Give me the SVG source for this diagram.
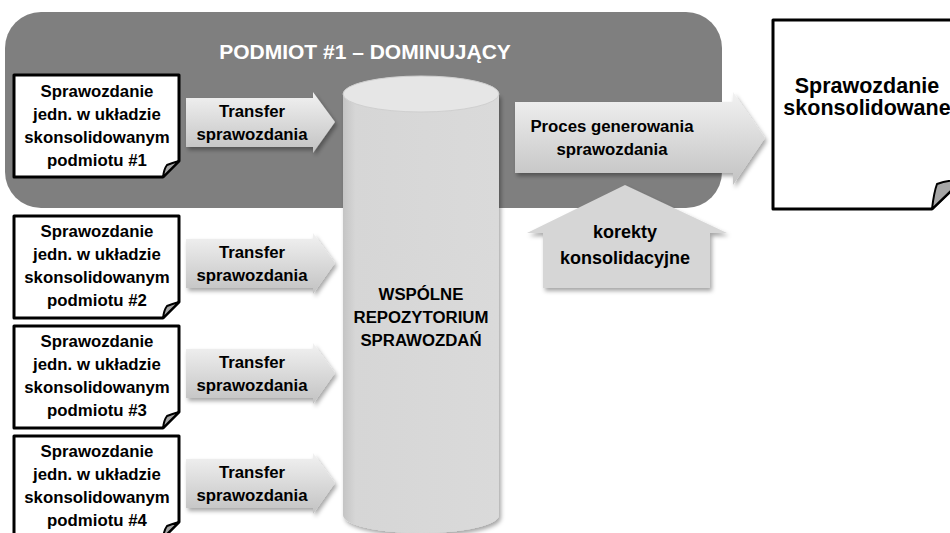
<svg xmlns="http://www.w3.org/2000/svg" width="950" height="533" viewBox="0 0 950 533">
<defs>
<linearGradient id="arrowGrad" x1="0" y1="0" x2="0" y2="1">
<stop offset="0" stop-color="#f2f2f2"/>
<stop offset="1" stop-color="#c2c2c2"/>
</linearGradient>
<linearGradient id="cylGrad" x1="0" y1="0" x2="1" y2="0">
<stop offset="0" stop-color="#c4c4c4"/>
<stop offset="0.08" stop-color="#d6d6d6"/>
<stop offset="1" stop-color="#dadada"/>
</linearGradient>
<filter id="shadow" x="-10%" y="-10%" width="130%" height="140%">
<feDropShadow dx="2" dy="3" stdDeviation="2" flood-color="#000" flood-opacity="0.35"/>
</filter>
<style>
.doc{fill:#fff;stroke:#000;stroke-width:3;stroke-linejoin:round}
.fold{fill:#a6a6a6;stroke:#000;stroke-width:2;stroke-linejoin:round}
.arr{fill:url(#arrowGrad);filter:url(#shadow)}
.t{font-family:"Liberation Sans",Arial,sans-serif;font-weight:bold;font-size:16.8px;fill:#000;text-anchor:middle}
.tl{font-family:"Liberation Sans",Arial,sans-serif;font-weight:bold;font-size:18px;fill:#000;text-anchor:middle}
.tx{font-family:"Liberation Sans",Arial,sans-serif;font-weight:bold;font-size:21.5px;fill:#000;text-anchor:middle}
.title{font-family:"Liberation Sans",Arial,sans-serif;font-weight:bold;font-size:21px;fill:#fff;text-anchor:middle}
</style>
</defs>
<rect width="950" height="533" fill="#fff"/>

<g id="podmiot1">
<rect x="5" y="12" width="717" height="196" rx="36" ry="36" fill="#7f7f7f"/>
<text class="title" x="365" y="59">PODMIOT #1 – DOMINUJĄCY</text>
</g>

<g id="repozytorium">
<path d="M343,94 V515 A78,18 0 0 0 499,515 V94 Z" fill="url(#cylGrad)" filter="url(#shadow)"/>
<ellipse cx="421" cy="94" rx="78" ry="18" fill="#e6e6e6" stroke="#cfcfcf" stroke-width="1"/>
<text class="t" x="421" y="300">WSPÓLNE</text>
<text class="t" x="421" y="323">REPOZYTORIUM</text>
<text class="t" x="421" y="346">SPRAWOZDAŃ</text>
</g>

<g id="doc1">
<path class="doc" d="M14,75 H179 V161 L163,177 H14 Z"/>
<path class="fold" d="M163,177 Q164,169 167,165 Q172,163 179,161 Z"/>
<text class="t" x="97" y="97">Sprawozdanie</text>
<text class="t" x="97" y="120">jedn. w układzie</text>
<text class="t" x="97" y="143">skonsolidowanym</text>
<text class="t" x="97" y="166">podmiotu #1</text>
</g>
<g id="doc2">
<path class="doc" d="M14,216 H179 V302 L163,318 H14 Z"/>
<path class="fold" d="M163,318 Q164,310 167,306 Q172,304 179,302 Z"/>
<text class="t" x="97" y="237">Sprawozdanie</text>
<text class="t" x="97" y="260">jedn. w układzie</text>
<text class="t" x="97" y="283">skonsolidowanym</text>
<text class="t" x="97" y="306">podmiotu #2</text>
</g>
<g id="doc3">
<path class="doc" d="M14,326 H179 V412 L163,428 H14 Z"/>
<path class="fold" d="M163,428 Q164,420 167,416 Q172,414 179,412 Z"/>
<text class="t" x="97" y="347">Sprawozdanie</text>
<text class="t" x="97" y="370">jedn. w układzie</text>
<text class="t" x="97" y="393">skonsolidowanym</text>
<text class="t" x="97" y="416">podmiotu #3</text>
</g>
<g id="doc4">
<path class="doc" d="M14,436 H179 V522 L163,538 H14 Z"/>
<path class="fold" d="M163,538 Q164,530 167,526 Q172,524 179,522 Z"/>
<text class="t" x="97" y="457">Sprawozdanie</text>
<text class="t" x="97" y="480">jedn. w układzie</text>
<text class="t" x="97" y="503">skonsolidowanym</text>
<text class="t" x="97" y="526">podmiotu #4</text>
</g>

<g id="sprawozdanie-skonsolidowane">
<path class="doc" d="M773,20 H962 V180 L932,209 H773 Z"/>
<path class="fold" d="M932,209 Q934,192 937,184 Q948,180 962,180 Z"/>
<text class="tx" x="867" y="93">Sprawozdanie</text>
<text class="tx" x="867" y="115">skonsolidowane</text>
</g>

<g id="connectors">
<g id="transfer1">
<path class="arr" d="M186,98 H313 V92 L335,122 L313,153 V147 H186 Z"/>
<text class="t" x="252" y="117">Transfer</text>
<text class="t" x="252" y="140">sprawozdania</text>
</g>
<g id="transfer2">
<path class="arr" d="M186,239 H313 V233 L335,263 L313,294 V288 H186 Z"/>
<text class="t" x="252" y="258">Transfer</text>
<text class="t" x="252" y="281">sprawozdania</text>
</g>
<g id="transfer3">
<path class="arr" d="M186,349 H313 V343 L335,373 L313,404 V398 H186 Z"/>
<text class="t" x="252" y="368">Transfer</text>
<text class="t" x="252" y="391">sprawozdania</text>
</g>
<g id="transfer4">
<path class="arr" d="M186,459 H313 V453 L335,483 L313,514 V508 H186 Z"/>
<text class="t" x="252" y="478">Transfer</text>
<text class="t" x="252" y="501">sprawozdania</text>
</g>
<g id="proces">
<path class="arr" d="M515,102 H733 V92 L765,138 L733,185 V173 H515 Z"/>
<text class="t" x="612" y="132">Proces generowania</text>
<text class="t" x="612" y="155">sprawozdania</text>
</g>
<g id="korekty">
<path d="M625,185 L727,233 H710 V288 H543 V233 H527 Z" fill="#d6d6d6" filter="url(#shadow)"/>
<text class="tl" x="625" y="238">korekty</text>
<text class="tl" x="625" y="264">konsolidacyjne</text>
</g>
</g>
</svg>
